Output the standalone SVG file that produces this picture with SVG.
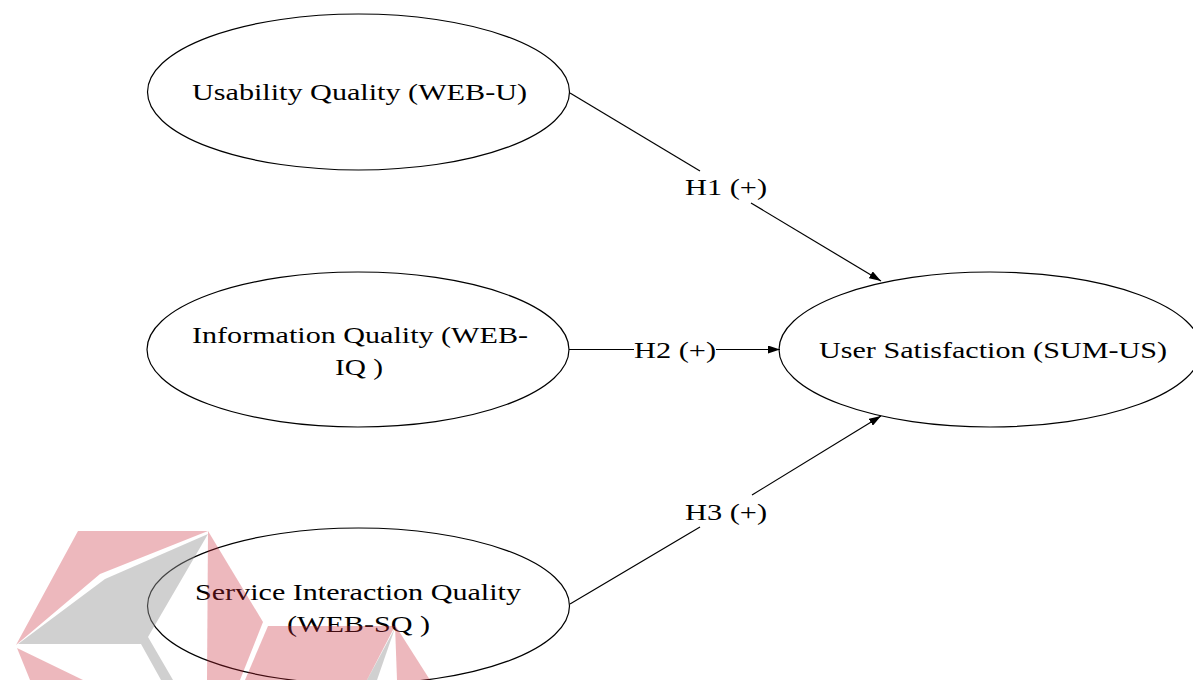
<svg xmlns="http://www.w3.org/2000/svg" width="1193" height="680" viewBox="0 0 1193 680">
<style>
.node ellipse{fill:none;stroke:#000;stroke-width:1.2}
text{font-family:"Liberation Serif","Times New Roman",serif;font-size:23px;fill:#000;text-anchor:middle}
.edge line{stroke:#000;stroke-width:1.2;fill:none}
.wp{fill:rgb(200,40,55);fill-opacity:0.33}
.wg{fill:rgb(150,150,150);fill-opacity:0.45}
</style>
<defs>
<marker id="arr" markerWidth="12" markerHeight="8" refX="12" refY="4" orient="auto" markerUnits="userSpaceOnUse">
<path d="M0,0 L12,4 L0,8 z" fill="#000"/>
</marker>
</defs>
<rect width="1193" height="680" fill="#fff"/>
<g id="node-webu" class="node">
<ellipse cx="358.5" cy="92" rx="211" ry="78"/>
<text x="359.5" y="100" textLength="335" lengthAdjust="spacingAndGlyphs">Usability Quality (WEB-U)</text>
</g>
<g id="node-webiq" class="node">
<ellipse cx="358" cy="349.5" rx="211" ry="77.5"/>
<text x="360" y="343" textLength="336" lengthAdjust="spacingAndGlyphs">Information Quality (WEB-</text>
<text x="359" y="375" textLength="48" lengthAdjust="spacingAndGlyphs">IQ )</text>
</g>
<g id="node-websq" class="node">
<ellipse cx="358.5" cy="606" rx="211" ry="78"/>
<text x="358" y="600" textLength="326" lengthAdjust="spacingAndGlyphs">Service Interaction Quality</text>
<text x="358.5" y="632" textLength="143" lengthAdjust="spacingAndGlyphs">(WEB-SQ )</text>
</g>
<g id="node-sumus" class="node">
<ellipse cx="990" cy="349.5" rx="211" ry="77.5"/>
<text x="993" y="358" textLength="348" lengthAdjust="spacingAndGlyphs">User Satisfaction (SUM-US)</text>
</g>
<g id="connectors" class="edge">
<line x1="570" y1="93" x2="700" y2="171"/>
<line x1="751" y1="203" x2="881" y2="281" marker-end="url(#arr)"/>
<text x="726" y="195" textLength="82" lengthAdjust="spacingAndGlyphs">H1 (+)</text>
<line x1="569" y1="349.5" x2="634" y2="349.5"/>
<line x1="716" y1="349.5" x2="780" y2="349.5" marker-end="url(#arr)"/>
<text x="675" y="358" textLength="82" lengthAdjust="spacingAndGlyphs">H2 (+)</text>
<line x1="570" y1="604" x2="700" y2="527"/>
<line x1="752" y1="495" x2="881" y2="416" marker-end="url(#arr)"/>
<text x="726" y="520" textLength="82" lengthAdjust="spacingAndGlyphs">H3 (+)</text>
</g>
<g id="watermark">
<polygon class="wp" points="78,531 208,531 100,574 16,645"/>
<polygon class="wg" points="208,534 105,579 18,644 141,644 161,680 173,680 148,637"/>
<polygon class="wp" points="17,648 83,680 30,680"/>
<polygon class="wp" points="208,531 263,622 240,680 207,680"/>
<polygon class="wp" points="268,626 395,626 367,680 245,680"/>
<polygon class="wg" points="395,628 367,680 377,680"/>
<polygon class="wp" points="395,625 430,680 397,680"/>
</g>
</svg>
